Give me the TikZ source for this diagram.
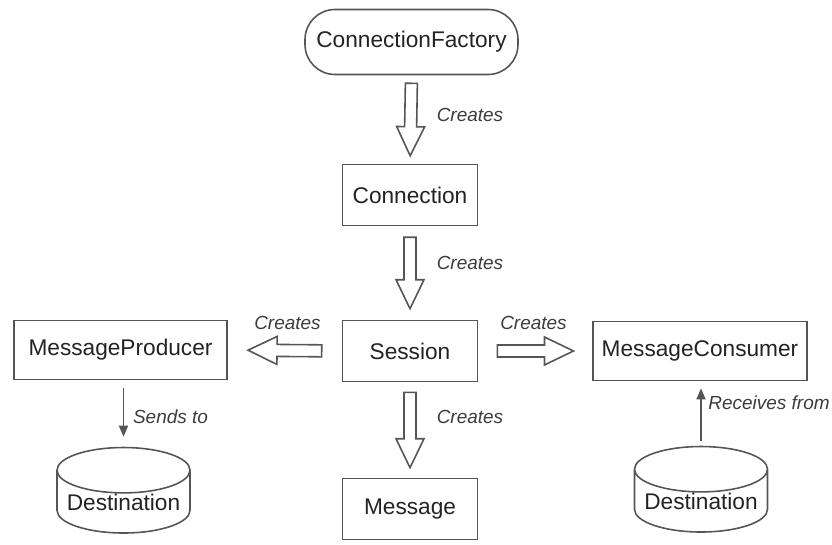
\documentclass[tikz,border=0pt]{standalone}
\usepackage{fontspec}
\setmainfont{Liberation Sans}
\usepackage{tikz}
\usetikzlibrary{
	arrows.meta,
	calc,
	positioning,
	shapes.geometric
}
\definecolor{LineGray}{RGB}{85,85,85}
\definecolor{TextGray}{RGB}{35,35,35}
\definecolor{LabelGray}{RGB}{60,60,60}
\tikzset{
	box/.style={draw=LineGray, line width=0.9pt, text=TextGray, font=\fontsize{12.9}{15}\selectfont, minimum width=2.7cm, minimum height=1.22cm, inner sep=0pt},
	widebox/.style={box, minimum width=4.27cm, minimum height=1.18cm},
	store/.style={cylinder, shape border rotate=90, aspect=0.4, draw=LineGray, line width=0.9pt, text=TextGray, font=\fontsize{12.9}{15}\selectfont, minimum width=2.66cm, minimum height=1.64cm, inner sep=0pt},
	lbl/.style={text=LabelGray, font=\fontsize{10.8}{13}\selectfont\itshape, inner sep=0pt},
	hollow/.style={draw=LineGray, line width=0.9pt, fill=white, line join=miter},
	thin/.style={draw=LineGray, line width=0.9pt, -{Triangle[length=2.2mm,width=1.8mm]}}
}
% 空心箭头：起点，终点，间隙
\newcommand{\createsarrow}[3]{%
	\coordinate (s) at ($(#1)!#3!(#2)$);
	\coordinate (t) at ($(#2)!#3!(#1)$);
	\coordinate (h) at ($(t)!0.58cm!(s)$);
	\draw[hollow] ($(s)!0.12cm!90:(t)$) -- ($(h)!0.12cm!90:(t)$) -- ($(h)!0.28cm!90:(t)$) -- (t)
		-- ($(h)!0.28cm!-90:(t)$) -- ($(h)!0.12cm!-90:(t)$) -- ($(s)!0.12cm!-90:(t)$) -- cycle;
}

\begin{document}
\begin{tikzpicture}
	\useasboundingbox (0,0) rectangle (16.64,10.88);
	% 节点
	\node[box, rounded corners=0.6cm, minimum width=4.26cm, minimum height=1.3cm] (factory) at (8.23,10.04) {ConnectionFactory};
	\node[box] (conn) at (8.2,6.98) {Connection};
	\node[box] (session) at (8.2,3.86) {Session};
	\node[box] (msg) at (8.2,0.70) {Message};
	\node[widebox] (producer) at (2.41,3.88) {MessageProducer};
	\node[widebox] (consumer) at (14.0,3.86) {MessageConsumer};
	\node[store] (destL) at (2.47,0.84) {Destination};
	\node[store] (destR) at (14.02,0.86) {Destination};
	% 空心箭头
	\createsarrow{factory.south}{conn.north}{0.16cm}
	\createsarrow{conn.south}{session.north}{0.22cm}
	\createsarrow{session.south}{msg.north}{0.2cm}
	\createsarrow{session.west}{producer.east}{0.4cm}
	\createsarrow{session.east}{consumer.west}{0.38cm}
	\node[lbl] (c1) at (9.40,8.58) {Creates};
	\node[lbl] (c2) at (9.40,5.62) {Creates};
	\node[lbl] (c3) at (9.40,2.54) {Creates};
	\node[lbl] (cL) at (5.75,4.42) {Creates};
	\node[lbl] (cR) at (10.67,4.42) {Creates};
	% 细箭头
	\draw[thin, shorten <=0.16cm, shorten >=0.2cm] (producer.south -| destL.north) -- (destL.north);
	\draw[thin, shorten <=0.1cm, shorten >=0.14cm] (destR.north) -- (consumer.south -| destR.north);
	\node[lbl] (sends) at (3.41,2.54) {Sends to};
	\node[lbl] (recv) at (15.38,2.82) {Receives from};
\end{tikzpicture}
\end{document}
